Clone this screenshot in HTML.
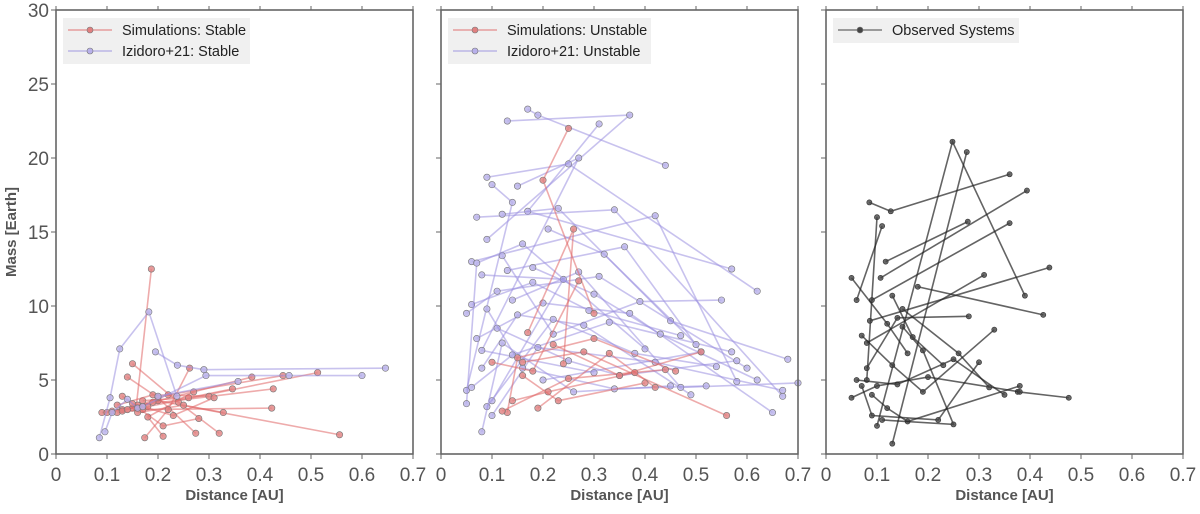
<!DOCTYPE html>
<html><head><meta charset="utf-8"><style>
body{margin:0;background:#fff}
svg text{font-family:"Liberation Sans","DejaVu Sans",sans-serif;fill:#555}
</style></head><body>
<svg id="chart" width="1200" height="509" xmlns="http://www.w3.org/2000/svg"></svg>
<script>
const xTicks=[0,0.1,0.2,0.3,0.4,0.5,0.6,0.7];
const xTickLabels=["0","0.1","0.2","0.3","0.4","0.5","0.6","0.7"];
const yTicks=[0,5,10,15,20,25,30];
const yTickLabels=["0","5","10","15","20","25","30"];
const stableSim=[
[[0.187,12.5],[0.157,3.1]],
[[0.09,2.8],[0.13,3.0],[0.18,3.2],[0.513,5.5]],
[[0.1,2.8],[0.15,3.1],[0.2,3.6],[0.556,1.3]],
[[0.11,2.9],[0.16,3.3],[0.426,4.4]],
[[0.12,2.8],[0.17,3.0],[0.423,3.1]],
[[0.13,2.9],[0.19,3.5],[0.384,5.2]],
[[0.14,3.0],[0.22,4.0],[0.445,5.3]],
[[0.15,6.1],[0.24,3.5],[0.32,1.4]],
[[0.14,5.2],[0.2,3.8],[0.274,1.4]],
[[0.16,2.8],[0.25,3.3],[0.328,2.8]],
[[0.17,3.6],[0.26,3.8],[0.346,4.4]],
[[0.174,1.1],[0.22,3.0],[0.262,5.8]],
[[0.21,1.2],[0.18,2.5],[0.27,4.2]],
[[0.12,3.3],[0.19,4.0],[0.3,3.9]],
[[0.13,3.9],[0.21,1.9],[0.28,2.4]],
[[0.15,3.4],[0.23,2.6],[0.31,3.8]]];
const stableIz=[
[[0.085,1.1],[0.106,3.8],[0.125,7.1],[0.182,9.6],[0.237,3.9]],
[[0.096,1.5],[0.11,2.8],[0.14,3.7],[0.16,3.1]],
[[0.195,6.9],[0.238,6.0],[0.29,5.7],[0.646,5.8]],
[[0.17,3.2],[0.294,5.3],[0.457,5.3],[0.6,5.3]],
[[0.2,3.9],[0.357,4.9]]];
const unstableSim=[
[[0.25,22.0],[0.2,18.5],[0.3,9.5]],
[[0.13,2.8],[0.15,6.5],[0.3,7.8],[0.46,5.6]],
[[0.12,2.9],[0.25,5.1],[0.44,5.7]],
[[0.16,6.2],[0.28,6.9],[0.56,2.6]],
[[0.14,3.6],[0.21,4.2],[0.38,5.5]],
[[0.19,3.1],[0.33,6.8],[0.42,4.5]],
[[0.17,8.2],[0.26,15.2],[0.24,6.1]],
[[0.1,6.2],[0.18,5.6],[0.27,11.7]],
[[0.22,7.4],[0.35,5.3],[0.51,6.9]],
[[0.16,5.3],[0.23,3.6],[0.4,4.8]]];
const unstableIz=[
[[0.17,23.3],[0.19,22.9],[0.44,19.5]],
[[0.13,22.5],[0.37,22.9],[0.09,14.5]],
[[0.31,22.3],[0.17,16.4],[0.57,12.5]],
[[0.09,18.7],[0.25,19.6],[0.62,11.0]],
[[0.1,18.2],[0.14,17.0],[0.05,4.3]],
[[0.15,18.1],[0.27,20.0],[0.08,7.0],[0.3,5.5]],
[[0.07,16.0],[0.34,16.5],[0.67,3.9]],
[[0.12,16.2],[0.23,16.6],[0.45,9.0],[0.68,6.4]],
[[0.06,13.0],[0.42,16.1],[0.58,4.9]],
[[0.08,12.1],[0.24,11.8],[0.1,3.6]],
[[0.13,12.4],[0.36,14.0],[0.51,6.9],[0.2,5.0]],
[[0.06,10.1],[0.18,11.6],[0.29,9.7],[0.47,8.0]],
[[0.05,9.5],[0.11,11.0],[0.31,12.0],[0.6,5.8]],
[[0.07,7.8],[0.2,10.2],[0.37,9.5],[0.65,2.8]],
[[0.08,5.8],[0.15,9.4],[0.28,8.7],[0.49,4.0]],
[[0.06,4.5],[0.14,6.7],[0.33,8.9],[0.57,6.9]],
[[0.09,3.2],[0.22,9.1],[0.38,6.8],[0.54,5.9]],
[[0.1,2.6],[0.19,7.2],[0.42,6.2],[0.67,4.3]],
[[0.08,1.5],[0.12,7.5],[0.26,4.2],[0.45,4.6]],
[[0.12,13.4],[0.22,8.1],[0.39,10.3],[0.55,10.4]],
[[0.05,3.4],[0.07,12.9],[0.16,14.2],[0.4,7.1]],
[[0.21,15.2],[0.32,13.5],[0.5,7.4]],
[[0.14,10.4],[0.27,12.3],[0.47,4.5],[0.7,4.8]],
[[0.11,8.5],[0.25,6.3],[0.35,5.3],[0.58,6.3]],
[[0.18,12.6],[0.3,10.8],[0.43,8.1],[0.62,5.0]],
[[0.09,9.8],[0.16,5.8],[0.34,4.4],[0.52,4.6]]];
const observed=[
[[0.1,1.9],[0.248,21.1],[0.39,10.7]],
[[0.13,0.7],[0.276,20.4]],
[[0.085,17.0],[0.127,16.4],[0.36,18.9]],
[[0.06,10.4],[0.11,15.4]],
[[0.1,16.0],[0.08,5.0]],
[[0.117,13.0],[0.278,15.7]],
[[0.107,11.9],[0.394,17.8]],
[[0.09,10.4],[0.36,15.6]],
[[0.086,9.0],[0.438,12.6]],
[[0.18,11.3],[0.426,9.4]],
[[0.08,7.5],[0.31,12.1]],
[[0.05,11.9],[0.12,8.8],[0.16,6.8]],
[[0.07,8.0],[0.13,6.0],[0.19,4.2],[0.33,8.4]],
[[0.376,4.2],[0.476,3.8]],
[[0.06,5.0],[0.14,4.7],[0.25,6.4],[0.35,4.0]],
[[0.09,4.0],[0.12,3.1],[0.16,2.2],[0.38,4.6]],
[[0.05,3.8],[0.1,4.6],[0.2,5.2],[0.38,4.2]],
[[0.07,4.6],[0.09,2.6],[0.22,2.3],[0.3,6.2]],
[[0.15,9.8],[0.26,6.8],[0.32,4.5]],
[[0.11,2.3],[0.25,2.0],[0.19,7.0],[0.15,8.6]],
[[0.08,5.8],[0.14,9.2],[0.28,9.3]],
[[0.13,10.7],[0.17,7.9],[0.23,6.0]]];

const NS="http://www.w3.org/2000/svg";
const svg=document.getElementById('chart');
function mk(tag,attrs,parent){const e=document.createElementNS(NS,tag);for(const k in attrs)e.setAttribute(k,attrs[k]);(parent||svg).appendChild(e);return e;}
const TOP=10,BOT=454,W=357;
const panels=[
 {left:56,name:'stable',series:[{d:stableSim,c:'#e06666',f:'#e08080',n:'simulations-stable'},{d:stableIz,c:'#9a8fe0',f:'#b8b0ea',n:'izidoro-stable'}],legend:['Simulations: Stable','Izidoro+21: Stable']},
 {left:441,name:'unstable',series:[{d:unstableIz,c:'#9a8fe0',f:'#b8b0ea',n:'izidoro-unstable'},{d:unstableSim,c:'#e06666',f:'#e08080',n:'simulations-unstable'}],legend:['Simulations: Unstable','Izidoro+21: Unstable']},
 {left:826,name:'observed',series:[{d:observed,c:'#222',f:'#444',n:'observed-systems'}],legend:['Observed Systems']}
];
const yS=v=>BOT-(v/30)*(BOT-TOP);
panels.forEach((p,pi)=>{
 const xS=v=>p.left+(v/0.7)*W;
 const g=mk('g',{});
 
 
 // ticks
 xTicks.forEach((t,i)=>{
  const x=xS(t);
  mk('line',{x1:x,x2:x,y1:BOT,y2:BOT+5,stroke:'#666','stroke-width':1},g);
  mk('line',{x1:x,x2:x,y1:TOP,y2:TOP-4,stroke:'#666','stroke-width':1},g);
  const tx=mk('text',{x:x,y:BOT+27,'font-size':19,'text-anchor':'middle'},g);
  tx.textContent=xTickLabels[i];
  
  
 });
 yTicks.forEach((t,i)=>{
  const y=yS(t);
  mk('line',{x1:p.left,x2:p.left-5,y1:y,y2:y,stroke:'#666','stroke-width':1},g);
  if(pi===0){const ty=mk('text',{x:p.left-7,y:y+7,'font-size':19,'text-anchor':'end'},g);
   ty.textContent=yTickLabels[i];
   
   }
 });
 const xt=mk('text',{x:p.left+W/2,y:500,'font-size':15,'font-weight':'bold','text-anchor':'middle'},g);
 xt.textContent='Distance [AU]';
 
 
 // series
 p.series.forEach(s=>{
  const sg=mk('g',{},g);
  
  
  s.d.forEach(sys=>{
   const pl=mk('polyline',{points:sys.map(q=>xS(q[0])+','+yS(q[1])).join(' '),fill:'none',stroke:s.c,'stroke-opacity':pi===2?0.7:0.55,'stroke-width':1.6},sg);
   
   
   sys.forEach(q=>{
    const c=mk('circle',{cx:xS(q[0]),cy:yS(q[1]),r:pi===2?2.6:3.2,fill:s.f,'fill-opacity':0.8,stroke:pi===2?'#333':'#777','stroke-width':0.6},sg);
    
    
   });
  });
 });
 mk('rect',{x:p.left,y:TOP,width:W,height:BOT-TOP,fill:'none',stroke:'#666','stroke-width':1.6},g);
 // legend
 const lg=mk('g',{},g);
 
 
 const lw=p.legend.length===2?(pi===0?187:203):186;
 const lh=p.legend.length*21+4;
 mk('rect',{x:p.left+7,y:18,width:lw,height:lh,fill:'#f0f0f0'},lg);
 p.legend.forEach((lab,i)=>{
  const y=30+i*21;
  const col=pi===2?'#333':(i===0?'#e06666':'#9a8fe0');
  const fc=pi===2?'#444':(i===0?'#e08080':'#b8b0ea');
  mk('line',{x1:p.left+12,x2:p.left+56,y1:y,y2:y,stroke:col,'stroke-opacity':0.6,'stroke-width':1.6},lg);
  mk('circle',{cx:p.left+34,cy:y,r:3,fill:fc,stroke:'#777','stroke-width':0.6},lg);
  const t=mk('text',{x:p.left+66,y:y+5,'font-size':14.5,fill:'#222'},lg);
  t.style.fill='#222';
  t.textContent=lab;
  
  
 });
});
const yt=mk('text',{x:0,y:0,'font-size':15,'font-weight':'bold','text-anchor':'middle',transform:'translate(16,232) rotate(-90)'});
yt.textContent='Mass [Earth]';


</script>
</body></html>
